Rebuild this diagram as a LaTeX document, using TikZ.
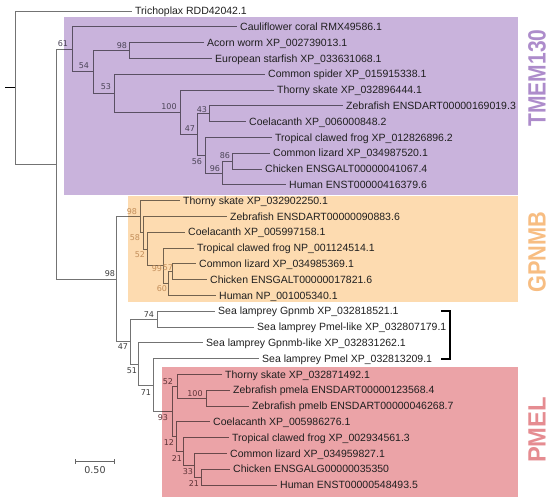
\documentclass[tikz,border=0pt]{standalone}
\usepackage{fontspec}
\setmainfont{Liberation Sans}
\newfontfamily\numfont{DejaVu Sans}
\definecolor{tmembox}{HTML}{C9B3DC}
\definecolor{gpnmbbox}{HTML}{FDDBB0}
\definecolor{pmelbox}{HTML}{EBA3A7}
\definecolor{tmemlab}{HTML}{AD8CCB}
\definecolor{gpnmblab}{HTML}{F7BD82}
\definecolor{pmellab}{HTML}{E58C91}
\definecolor{bsout}{HTML}{3C3C3C}
\definecolor{bstmem}{HTML}{4B4457}
\definecolor{bsgp}{HTML}{C38E5A}
\definecolor{bspm}{HTML}{5E3337}
\begin{document}
\begin{tikzpicture}[x=1pt,y=-1pt,
  leaf/.style={anchor=west,inner xsep=3pt,inner ysep=0pt,text height=7.5pt,text depth=0pt,
    font=\fontsize{10.5}{12}\selectfont,text=black!88},
  br/.style={draw=black,draw opacity=0.55,line width=0.8pt},
  bs/.style={inner sep=0pt,font=\numfont\fontsize{8}{9}\selectfont},
  side/.style={rotate=90,font=\bfseries\fontsize{25}{25}\selectfont}]
\useasboundingbox (0,0) rectangle (550,504);
% clade boxes
\fill[tmembox] (64,17) rectangle (518,195);
\fill[gpnmbbox] (128,196) rectangle (518,302);
\fill[pmelbox] (162,367) rectangle (518,497);
% leaves
\node[leaf] (tri) at (132,11.0) {Trichoplax RDD42042.1};
\node[leaf] (cau) at (237,26.8) {Cauliflower coral RMX49586.1};
\node[leaf] (acw) at (204,42.6) {Acorn worm XP\_002739013.1};
\node[leaf] (est) at (212,58.4) {European starfish XP\_033631068.1};
\node[leaf] (csp) at (265,74.2) {Common spider XP\_015915338.1};
\node[leaf] (tsk1) at (274,90.0) {Thorny skate XP\_032896444.1};
\node[leaf] (zeb1) at (343,105.8) {Zebrafish ENSDART00000169019.3};
\node[leaf] (coe1) at (246,121.6) {Coelacanth XP\_006000848.2};
\node[leaf] (frg1) at (272,137.4) {Tropical clawed frog XP\_012826896.2};
\node[leaf] (liz1) at (270,153.2) {Common lizard XP\_034987520.1};
\node[leaf] (chk1) at (262,169.0) {Chicken ENSGALT00000041067.4};
\node[leaf] (hum1) at (286,184.8) {Human ENST00000416379.6};
\node[leaf] (tsk2) at (180,200.6) {Thorny skate XP\_032902250.1};
\node[leaf] (zeb2) at (227,216.4) {Zebrafish ENSDART00000090883.6};
\node[leaf] (coe2) at (185,232.2) {Coelacanth XP\_005997158.1};
\node[leaf] (frg2) at (194,248.0) {Tropical clawed frog NP\_001124514.1};
\node[leaf] (liz2) at (196,263.8) {Common lizard XP\_034985369.1};
\node[leaf] (chk2) at (207,279.6) {Chicken ENSGALT00000017821.6};
\node[leaf] (hum2) at (216,295.4) {Human NP\_001005340.1};
\node[leaf] (slg) at (215,311.2) {Sea lamprey Gpnmb XP\_032818521.1};
\node[leaf] (slpl) at (254,327.0) {Sea lamprey Pmel-like XP\_032807179.1};
\node[leaf] (slgl) at (203,342.8) {Sea lamprey Gpnmb-like XP\_032831262.1};
\node[leaf] (slp) at (259,358.6) {Sea lamprey Pmel XP\_032813209.1};
\node[leaf] (tsk3) at (222,374.4) {Thorny skate XP\_032871492.1};
\node[leaf] (zpa) at (230,390.2) {Zebrafish pmela ENSDART00000123568.4};
\node[leaf] (zpb) at (249,406.0) {Zebrafish pmelb ENSDART00000046268.7};
\node[leaf] (coe3) at (210,421.8) {Coelacanth XP\_005986276.1};
\node[leaf] (frg3) at (229,437.6) {Tropical clawed frog XP\_002934561.3};
\node[leaf] (liz3) at (227,453.4) {Common lizard XP\_034959827.1};
\node[leaf] (chk3) at (230,469.2) {Chicken ENSGALG00000035350};
\node[leaf] (hum3) at (277,485.0) {Human ENST00000548493.5};
% internal nodes
\coordinate (n43) at (209,113.7);
\coordinate (n86) at (232,161.1);
\coordinate (n96) at (222,172.95);
\coordinate (n56) at (205,155.18);
\coordinate (n47) at (197,134.44);
\coordinate (n100) at (180,112.22);
\coordinate (n53) at (114,93.21);
\coordinate (n98a) at (129,50.5);
\coordinate (n54) at (93,71.86);
\coordinate (n61) at (72,49.33);
\coordinate (g57) at (172,271.7);
\coordinate (g60) at (168,283.55);
\coordinate (g99) at (163,265.78);
\coordinate (g52) at (147,248.99);
\coordinate (g58) at (143,232.69);
\coordinate (g98) at (140,216.65);
\coordinate (s74) at (157,319.1);
\coordinate (p21b) at (201,477.1);
\coordinate (p33) at (194,465.25);
\coordinate (p21a) at (183,451.43);
\coordinate (p12) at (176,436.6);
\coordinate (p100) at (206,398.1);
\coordinate (p52) at (177,386.25);
\coordinate (p93) at (172,411.43);
\coordinate (s71) at (153,385.0);
\coordinate (s51) at (138,363.9);
\coordinate (s47) at (130,341.5);
\coordinate (b98) at (116,279.07);
\coordinate (c56) at (56,164.2);
\coordinate (root) at (15,87.6);
\coordinate (stub) at (5,87.6);
% branches
\draw[br] (root) |- (tri.west); \draw[br] (root) |- (c56);
\draw[br] (c56) |- (n61); \draw[br] (c56) |- (b98);
\draw[br] (n61) |- (cau.west); \draw[br] (n61) |- (n54);
\draw[br] (n54) |- (n98a); \draw[br] (n54) |- (n53);
\draw[br] (n98a) |- (acw.west); \draw[br] (n98a) |- (est.west);
\draw[br] (n53) |- (csp.west); \draw[br] (n53) |- (n100);
\draw[br] (n100) |- (tsk1.west); \draw[br] (n100) |- (n47);
\draw[br] (n47) |- (n43); \draw[br] (n47) |- (n56);
\draw[br] (n43) |- (zeb1.west); \draw[br] (n43) |- (coe1.west);
\draw[br] (n56) |- (frg1.west); \draw[br] (n56) |- (n96);
\draw[br] (n96) |- (n86); \draw[br] (n96) |- (hum1.west);
\draw[br] (n86) |- (liz1.west); \draw[br] (n86) |- (chk1.west);
\draw[br] (b98) |- (g98); \draw[br] (b98) |- (s47);
\draw[br] (g98) |- (tsk2.west); \draw[br] (g98) |- (g58);
\draw[br] (g58) |- (zeb2.west); \draw[br] (g58) |- (g52);
\draw[br] (g52) |- (coe2.west); \draw[br] (g52) |- (g99);
\draw[br] (g99) |- (frg2.west); \draw[br] (g99) |- (g60);
\draw[br] (g60) |- (g57); \draw[br] (g60) |- (hum2.west);
\draw[br] (g57) |- (liz2.west); \draw[br] (g57) |- (chk2.west);
\draw[br] (s47) |- (s74); \draw[br] (s47) |- (s51);
\draw[br] (s74) |- (slg.west); \draw[br] (s74) |- (slpl.west);
\draw[br] (s51) |- (slgl.west); \draw[br] (s51) |- (s71);
\draw[br] (s71) |- (slp.west); \draw[br] (s71) |- (p93);
\draw[br] (p93) |- (p52); \draw[br] (p93) |- (p12);
\draw[br] (p52) |- (tsk3.west); \draw[br] (p52) |- (p100);
\draw[br] (p100) |- (zpa.west); \draw[br] (p100) |- (zpb.west);
\draw[br] (p12) |- (coe3.west); \draw[br] (p12) |- (p21a);
\draw[br] (p21a) |- (frg3.west); \draw[br] (p21a) |- (p33);
\draw[br] (p33) |- (liz3.west); \draw[br] (p33) |- (p21b);
\draw[br] (p21b) |- (chk3.west); \draw[br] (p21b) |- (hum3.west);
\draw[black,line width=1.2pt] (stub) -- (root);
% bootstrap values
\begin{scope}[every node/.style={bs,text=bstmem}]
\node (l61) at (63,44) {61};
\node (l98a) at (122,46) {98};
\node (l54) at (84,66) {54};
\node (l53) at (106,87) {53};
\node (l100a) at (169,107) {100};
\node (l43) at (202,110) {43};
\node (l47a) at (190,129) {47};
\node (l56) at (197,162) {56};
\node (l86) at (225,156) {86};
\node (l96) at (215,169) {96};
\end{scope}
\begin{scope}[every node/.style={bs,text=bsgp}]
\node (l98g) at (132,212) {98};
\node (l58) at (135,238) {58};
\node (l52g) at (140,255) {52};
\node (l99) at (157,269) {99};
\node (l57) at (168,268) {57};
\node (l60) at (162,289) {60};
\end{scope}
\begin{scope}[every node/.style={bs,text=bsout}]
\node (l98b) at (110,274) {98};
\node (l74) at (149,315) {74};
\node (l47b) at (123,347) {47};
\node (l51) at (132,371) {51};
\node (l71) at (146,393) {71};
\end{scope}
\begin{scope}[every node/.style={bs,text=bspm}]
\node (l52p) at (168,382) {52};
\node (l100p) at (195,394) {100};
\node (l93) at (163,418) {93};
\node (l12) at (169,443) {12};
\node (l21a) at (177,459) {21};
\node (l33) at (188,472) {33};
\node (l21b) at (194,484) {21};
\end{scope}
% bracket for lamprey sequences
\coordinate (bt) at (450,311); \coordinate (bb) at (450,359);
\draw[black,line width=1.6pt] ([xshift=-9pt]bt) -- (bt) -- (bb) -- ([xshift=-9pt]bb);
% scale bar
\coordinate (sa) at (75,461); \coordinate (sb) at (114,461);
\draw[black!60,line width=0.8pt] (sa) -- (sb);
\draw[black!60,line width=0.8pt] ([yshift=-2.5pt]sa) -- ([yshift=2.5pt]sa);
\draw[black!60,line width=0.8pt] ([yshift=-2.5pt]sb) -- ([yshift=2.5pt]sb);
\node[inner sep=0pt,font=\numfont\fontsize{9.5}{10}\selectfont,text=black!75] (scl) at (95,470) {0.50};
% clade labels
\node[side,text=tmemlab] (lt) at (537,78) {\scalebox{0.84}[1]{TMEM130}};
\node[side,text=gpnmblab] (lg) at (537,252) {\scalebox{0.87}[1]{GPNMB}};
\node[side,text=pmellab] (lp) at (537,430) {\scalebox{0.95}[1]{PMEL}};
\end{tikzpicture}
\end{document}
